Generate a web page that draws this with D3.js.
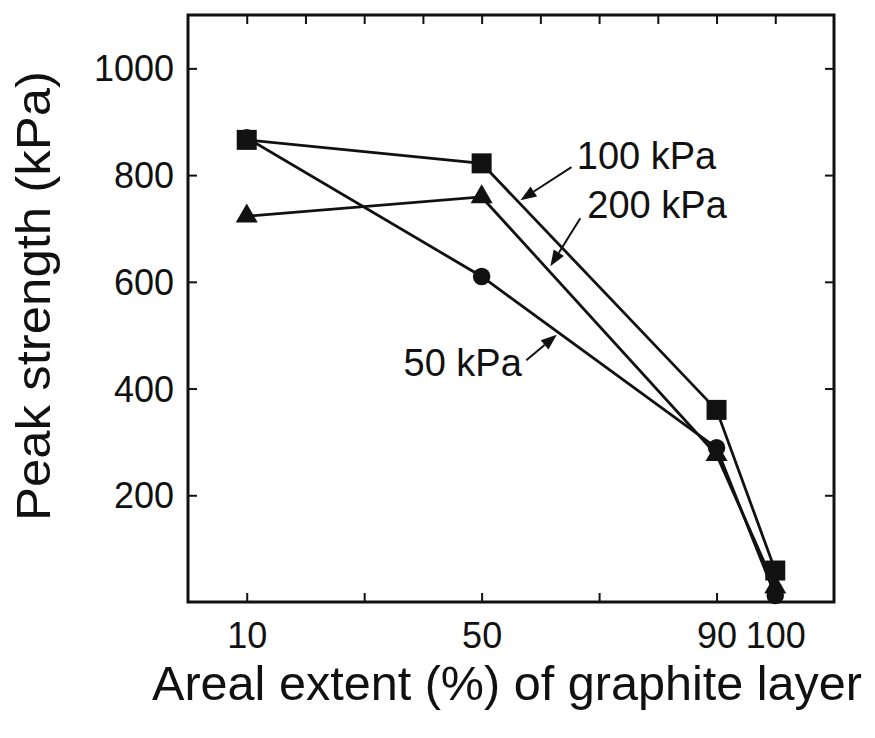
<!DOCTYPE html>
<html>
<head>
<meta charset="utf-8">
<script src="https://cdn.jsdelivr.net/npm/d3@7"></script>
<style>
  html, body { margin: 0; padding: 0; background: #fff; }
  svg { display: block; }
  text { font-family: "Liberation Sans", Arial, Helvetica, sans-serif; fill: #111; }
</style>
</head>
<body>
<svg id="chart" width="875" height="738"></svg>
<script>
// ---- data ----
const xValues = [10, 50, 90, 100];
const series50 = [870, 610, 289, 12];
const series100 = [866, 822, 360, 59];
const series200 = [723, 759, 276, 28];
const seriesNames = ["50 kPa", "100 kPa", "200 kPa"];
const yTicks = [200, 400, 600, 800, 1000];
const xTickLabels = [10, 50, 90, 100];
const xTicksBottom = [10, 30, 50, 70, 90];
const xTicksTop = [10, 20, 30, 40, 50, 60, 70, 80, 90, 100];
const xTitle = "Areal extent (%) of graphite layer";
const yTitle = "Peak strength (kPa)";
// annotations in data coordinates: text position, arrow start, arrow tip
const annText = ["100 kPa", "200 kPa", "50 kPa"];
const annTextX = [66.2, 68.0, 36.7];
const annTextY = [811, 719, 424];
const annFromX = [65.3, 66.8, 57.6];
const annFromY = [815, 719, 453];
const annToX = [56.6, 61.7, 62.8];
const annToY = [753, 629, 501];

// ---- layout ----
const svg = d3.select("#chart");
const margin = {left: 188, top: 15, right: 41, bottom: 136};
const W = 875, H = 738;
const x = d3.scaleLinear().domain([0, 110]).range([margin.left, W - margin.right]);
const y = d3.scaleLinear().domain([0, 1100]).range([H - margin.bottom, margin.top]);

svg.append("rect").attr("width", W).attr("height", H).attr("fill", "#fff");

const tickLen = 9;
const fontFam = '"Liberation Sans", Arial, sans-serif';
// bottom ticks (inward)
svg.append("g").attr("transform", `translate(0,${y(0)})`)
  .call(d3.axisBottom(x).tickValues(xTicksBottom).tickSize(-tickLen).tickFormat(""))
  .call(g => g.select(".domain").remove());
// top ticks (inward)
svg.append("g").attr("transform", `translate(0,${y(1100)})`)
  .call(d3.axisTop(x).tickValues(xTicksTop).tickSize(-tickLen).tickFormat(""))
  .call(g => g.select(".domain").remove());
// left ticks + labels
svg.append("g").attr("transform", `translate(${x(0)},0)`)
  .call(d3.axisLeft(y).tickValues(yTicks).tickSizeInner(-tickLen).tickSizeOuter(0)
        .tickPadding(14).tickFormat(d3.format("d")))
  .call(g => g.select(".domain").remove())
  .call(g => g.selectAll("text").attr("font-size", 36).attr("dy", "0.35em")
      .style("font-family", fontFam).attr("fill", "#111"));
// right ticks
svg.append("g").attr("transform", `translate(${x(110)},0)`)
  .call(d3.axisRight(y).tickValues(yTicks).tickSize(-tickLen).tickFormat(""))
  .call(g => g.select(".domain").remove());
// bottom labels
svg.append("g").attr("transform", `translate(0,${y(0)})`)
  .call(d3.axisBottom(x).tickValues(xTickLabels).tickSize(0).tickPadding(20).tickFormat(d3.format("d")))
  .call(g => g.select(".domain").remove())
  .call(g => g.selectAll("line").remove())
  .call(g => g.selectAll("text").attr("font-size", 36).attr("dy", "0.71em")
      .style("font-family", fontFam).attr("fill", "#111"));

svg.selectAll(".tick line").attr("stroke", "#111").attr("stroke-width", 2);

// frame
svg.append("rect")
  .attr("x", x(0)).attr("y", y(1100))
  .attr("width", x(110) - x(0)).attr("height", y(0) - y(1100))
  .attr("fill", "none").attr("stroke", "#111").attr("stroke-width", 3);

// ---- series ----
const line = d3.line().x(d => x(d[0])).y(d => y(d[1]));
const allSeries = [
  {name: seriesNames[0], vals: series50, sym: d3.symbolCircle, size: 240},
  {name: seriesNames[1], vals: series100, sym: d3.symbolSquare, size: 400},
  {name: seriesNames[2], vals: series200, sym: d3.symbolTriangle, size: 210}
];
allSeries.forEach(s => {
  const pts = xValues.map((xv, i) => [xv, s.vals[i]]);
  svg.append("path").datum(pts).attr("d", line)
    .attr("fill", "none").attr("stroke", "#111").attr("stroke-width", 2.8);
});
// draw markers: circles first, then triangles, then squares on top
[allSeries[0], allSeries[2], allSeries[1]].forEach(s => {
  const pts = xValues.map((xv, i) => [xv, s.vals[i]]);
  svg.append("g").selectAll("path").data(pts).join("path")
    .attr("transform", d => `translate(${x(d[0])},${y(d[1])})`)
    .attr("d", d3.symbol().type(s.sym).size(s.size))
    .attr("fill", "#111");
});

// ---- annotations ----
annText.forEach((t, i) => {
  svg.append("text").attr("x", x(annTextX[i])).attr("y", y(annTextY[i]))
    .attr("font-size", 38).text(t);
  const x1 = x(annFromX[i]), y1 = y(annFromY[i]);
  const x2 = x(annToX[i]), y2 = y(annToY[i]);
  const ang = Math.atan2(y2 - y1, x2 - x1);
  const hl = 16, hw = 6;
  const bx = x2 - hl * Math.cos(ang), by = y2 - hl * Math.sin(ang);
  svg.append("line").attr("x1", x1).attr("y1", y1).attr("x2", bx).attr("y2", by)
    .attr("stroke", "#111").attr("stroke-width", 2);
  const px = -Math.sin(ang), py = Math.cos(ang);
  svg.append("path")
    .attr("d", `M${x2},${y2}L${bx + hw * px},${by + hw * py}L${bx - hw * px},${by - hw * py}Z`)
    .attr("fill", "#111");
});

// ---- axis titles ----
svg.append("text").attr("x", (152 + 862) / 2).attr("y", 700)
  .attr("text-anchor", "middle").attr("font-size", 48)
  .attr("textLength", 710).attr("lengthAdjust", "spacingAndGlyphs").text(xTitle);
svg.append("text").attr("transform", `translate(50,${(71 + 521) / 2}) rotate(-90)`)
  .attr("text-anchor", "middle").attr("font-size", 48)
  .attr("textLength", 450).attr("lengthAdjust", "spacingAndGlyphs").text(yTitle);
</script>
</body>
</html>
